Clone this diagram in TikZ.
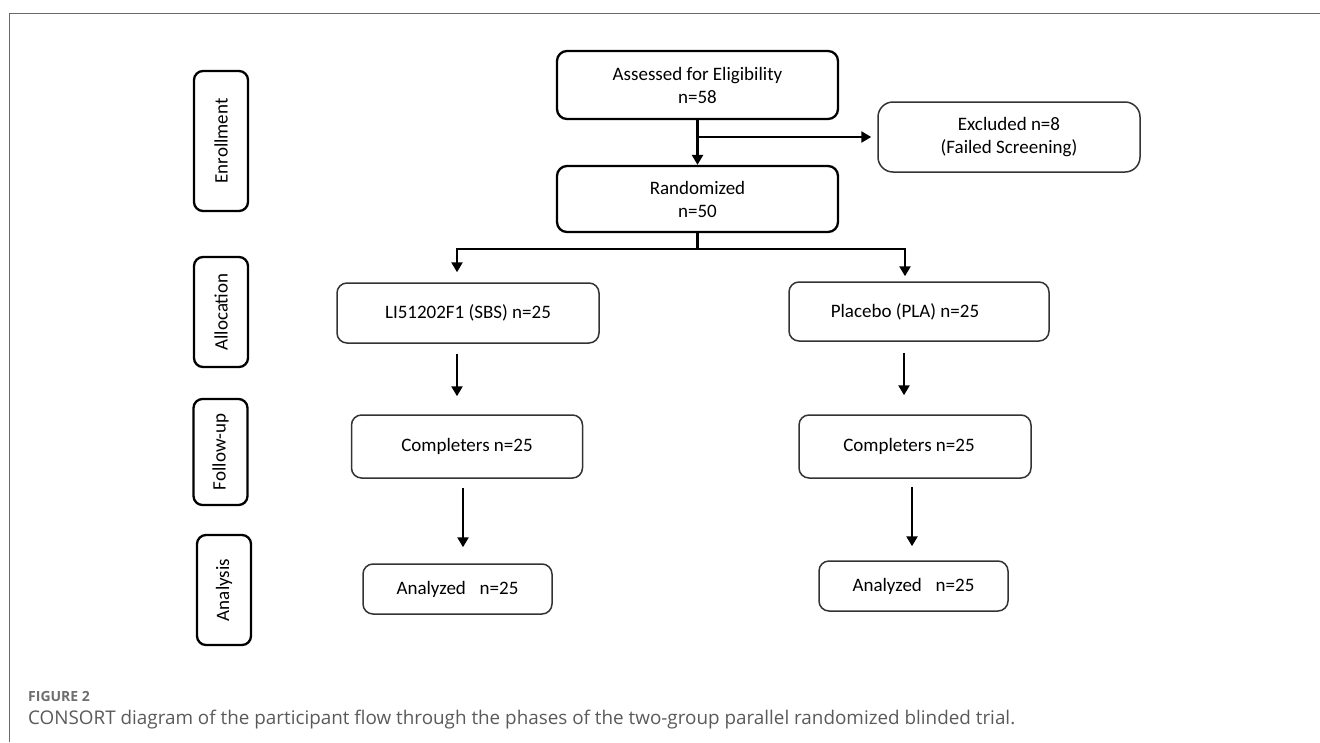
\documentclass[tikz,border=0pt]{standalone}
\usepackage{fontspec}
\setmainfont{Carlito}
\newfontfamily\capfont{Open Sans}
\usetikzlibrary{arrows.meta,calc}
\definecolor{framegray}{HTML}{6A6A6A}
\definecolor{capgray}{HTML}{5A5A5A}
\definecolor{figgray}{HTML}{6E6E6E}
\definecolor{boxline}{HTML}{333333}
\tikzset{
  phase/.style={draw=black, line width=2.3pt, rounded corners=9pt, rotate=90,
    minimum height=54pt, inner sep=0pt, font=\fontsize{19}{23}\selectfont},
  bigbox/.style={draw=black, line width=2.3pt, rounded corners=10pt, align=center,
    inner sep=0pt, font=\fontsize{19}{23}\selectfont},
  smallbox/.style={draw=boxline, line width=1.5pt, rounded corners=10pt, align=center,
    inner sep=0pt, font=\fontsize{19}{23}\selectfont},
  arr/.style={line width=2.8pt, -{Triangle[length=10pt,width=11pt]}},
  conn/.style={line width=2.8pt}
}
\begin{document}
\begin{tikzpicture}[x=1pt,y=-1pt]
\useasboundingbox (0,0) rectangle (1320,742);
% frame
\draw[framegray, line width=1.4pt] (1320,13.5) -- (9.5,13.5) -- (9.5,742);

% phase labels
\node[phase, minimum width=140pt] (enr) at (221,141) {Enrollment};
\node[phase, minimum width=110pt] (all) at (221,312) {Allocation};
\node[phase, minimum width=106pt] (fol) at (220.5,452) {Follow-up};
\node[phase, minimum width=110pt] (ana) at (224,590) {Analysis};

% main boxes
\node[bigbox, minimum width=281pt, minimum height=68pt] (A) at (697.5,85) {Assessed for Eligibility\\n=58};
\node[bigbox, minimum width=281pt, minimum height=66pt] (R) at (697.5,199) {Randomized\\n=50};
\node[smallbox, rounded corners=15pt, minimum width=262pt, minimum height=70pt] (E) at (1009,137) {Excluded n=8\\(Failed Screening)};
\node[smallbox, minimum width=262pt, minimum height=60pt] (LI) at (468,313) {LI51202F1 (SBS) n=25};
\node[smallbox, minimum width=260pt, minimum height=59pt] (PL) at (919,311.5) {Placebo (PLA) n=25\hspace*{28pt}};
\node[smallbox, minimum width=231pt, minimum height=63pt] (C1) at (467,446.5) {Completers n=25};
\node[smallbox, minimum width=232pt, minimum height=63pt] (C2) at (915,446.5) {Completers n=25\hspace*{12pt}};
\node[smallbox, minimum width=189pt, minimum height=50pt] (N1) at (457.5,589) {Analyzed\hspace{0.5em} n=25};
\node[smallbox, minimum width=189pt, minimum height=50pt] (N2) at (913.5,586) {Analyzed\hspace{0.5em} n=25};

% connectors
\draw[arr] (A.south) -- (R.north);
\draw[arr, shorten >=6pt] (A.south |- E.west) -- (E.west);
\coordinate (sp) at (697.5,249);
\coordinate (cl) at (457,249);
\coordinate (cr) at (905,249);
\draw[conn] (R.south) -- (sp);
\draw[arr, shorten >=10pt] (sp) -- (cl) -- (cl |- LI.north);
\draw[arr, shorten >=5pt] (sp) -- (cr) -- (cr |- PL.north);
\coordinate (xa) at (457,0);
\coordinate (xb) at (904,0);
\coordinate (xc) at (463,0);
\coordinate (xd) at (912,0);
\draw[arr, shorten <=10pt, shorten >=18pt] (LI.south -| xa) -- (C1.north -| xa);
\draw[arr, shorten <=11pt, shorten >=19pt] (PL.south -| xb) -- (C2.north -| xb);
\draw[arr, shorten <=9pt, shorten >=16pt] (C1.south -| xc) -- (N1.north -| xc);
\draw[arr, shorten <=8pt, shorten >=14pt] (C2.south -| xd) -- (N2.north -| xd);

% caption
\node[anchor=base west, inner sep=0pt, text=figgray, font=\capfont\bfseries\fontsize{14}{16}\selectfont] (fig) at (28,701) {FIGURE 2};
\node[anchor=base west, inner sep=0pt, text=capgray, font=\capfont\fontsize{17}{20}\selectfont] (cap) at (28,724) {\resizebox{987pt}{!}{CONSORT diagram of the participant flow through the phases of the two-group parallel randomized blinded trial.}};
\end{tikzpicture}
\end{document}
